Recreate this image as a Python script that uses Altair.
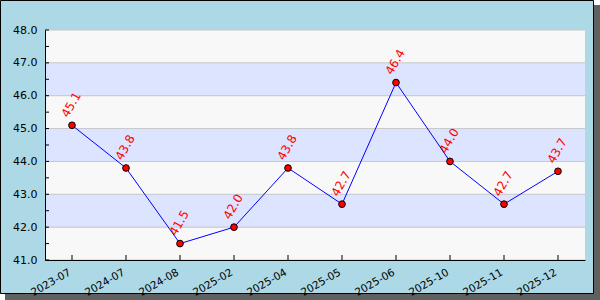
import altair as alt
import pandas as pd

dates = ["2023-07", "2024-07", "2024-08", "2025-02", "2025-04",
         "2025-05", "2025-06", "2025-10", "2025-11", "2025-12"]
values = [45.1, 43.8, 41.5, 42.0, 43.8, 42.7, 46.4, 44.0, 42.7, 43.7]

y_ticks = [41, 41.5, 42, 42.5, 43, 43.5, 44, 44.5, 45, 45.5, 46, 46.5, 47, 47.5, 48]
y_major = [41, 42, 43, 44, 45, 46, 47, 48]
band_lo = [41, 42, 43, 44, 45, 46, 47]
band_hi = [42, 43, 44, 45, 46, 47, 48]
band_fill = ["#F8F8F8", "#DDE4FF", "#F8F8F8", "#DDE4FF", "#F8F8F8", "#DDE4FF", "#F8F8F8"]

FONT = "DejaVu Sans"
W, H = 540, 230

df = pd.DataFrame({"date": dates, "value": values})
bands = pd.DataFrame({"lo": band_lo, "hi": band_hi, "fill": band_fill})
grid = pd.DataFrame({"v": y_major})
yt = pd.DataFrame({"v": y_ticks})
one = alt.Data(values=[{"a": 1}])

xscale = alt.Scale(type="point", padding=0.5, domain=dates)
yscale = alt.Scale(domain=[41, 48], nice=False, zero=False)

xaxis = alt.Axis(title=None, labelAngle=-30, labelAlign="right", labelBaseline="top",
                 labelPadding=7, labelOffset=-5, ticks=False, tickSize=0, domainColor="black",
                 labelColor="black", labelFont=FONT, labelFontSize=10.5, grid=False, zindex=1)
yaxis = alt.Axis(title=None, values=y_major, format=".1f", ticks=False, tickSize=0,
                 labelPadding=8, domainColor="black", labelColor="black",
                 labelFont=FONT, labelFontSize=11, grid=False, zindex=1)

shadow = alt.Chart(one).mark_rect(color="#606060").encode(
    x=alt.value(-40), x2=alt.value(W + 15), y=alt.value(-25), y2=alt.value(H + 40))
frame = alt.Chart(one).mark_rect(fill="#ADD8E6", stroke="black", strokeWidth=1).encode(
    x=alt.value(-44.5), x2=alt.value(W + 8.5), y=alt.value(-29.5), y2=alt.value(H + 33.5))

band_layer = alt.Chart(bands).mark_rect().encode(
    y=alt.Y("lo:Q", scale=yscale, axis=yaxis),
    y2="hi:Q",
    x=alt.value(0), x2=alt.value(W),
    color=alt.Color("fill:N", scale=None, legend=None))

grid_layer = alt.Chart(grid).mark_rule(color="#C8C8C8", strokeWidth=1).encode(
    y=alt.Y("v:Q", scale=yscale, axis=yaxis),
    x=alt.value(0), x2=alt.value(W))

ytick_layer = alt.Chart(yt).mark_rule(color="black", strokeWidth=1).encode(
    y=alt.Y("v:Q", scale=yscale, axis=yaxis),
    x=alt.value(0), x2=alt.value(4))

xtick_layer = alt.Chart(df).mark_rule(color="black", strokeWidth=1).encode(
    x=alt.X("date:N", scale=xscale, sort=None, axis=xaxis),
    y=alt.value(H - 5), y2=alt.value(H))

base = alt.Chart(df).encode(
    x=alt.X("date:N", scale=xscale, sort=None, axis=xaxis),
    y=alt.Y("value:Q", scale=yscale, axis=yaxis))

line = base.mark_line(color="#0000FF", strokeWidth=1)
pts = base.mark_point(filled=True, fill="red", stroke="black", strokeWidth=1, size=45, opacity=1)
labels = base.mark_text(angle=300, align="left", baseline="alphabetic", dx=4, dy=-7,
                        color="red", font=FONT, fontSize=12).encode(
    text=alt.Text("value:Q", format=".1f"))

chart = alt.layer(shadow, frame, band_layer, grid_layer, line, pts, labels,
                  ytick_layer, xtick_layer).properties(
    width=W, height=H,
    autosize=alt.AutoSizeParams(type="none"),
    padding={"left": 45, "top": 30, "right": 15, "bottom": 40},
    background="white",
).configure_view(stroke=None)

chart.save("out.html", embed_options={"renderer": "svg", "actions": False})
